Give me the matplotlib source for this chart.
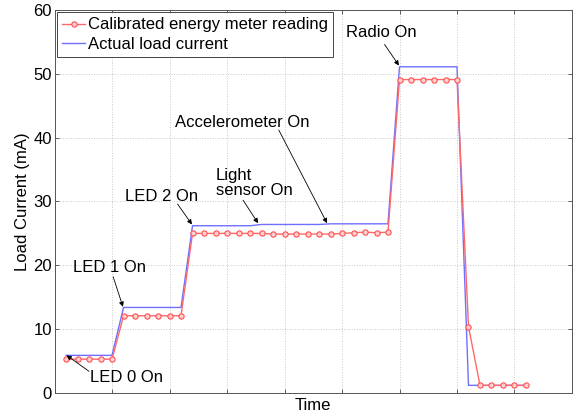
import matplotlib
matplotlib.use("Agg")
import matplotlib.pyplot as plt
import numpy as np

plt.rcParams['font.family'] = ['Liberation Sans', 'DejaVu Sans']

# Sample index (time)
samples = list(range(1, 42))

calibrated = ([5.3] * 5 + [12.1] * 6 +
              [25.0, 25.0, 25.0, 25.0, 25.0, 25.0, 25.0, 24.9, 24.9, 24.9,
               24.9, 24.9, 24.9, 25.0, 25.1, 25.2, 25.1, 25.2] +
              [49.1] * 6 + [10.4] + [1.2] * 5)

actual = ([5.9] * 5 + [13.4] * 6 +
          [26.2] * 6 + [26.4] * 6 + [26.5] * 6 +
          [51.1] * 6 + [1.2] * 6)

legend_labels = ["Calibrated energy meter reading", "Actual load current"]
y_ticks = [0, 10, 20, 30, 40, 50, 60]
x_ticks = list(range(0, 46, 5))

# annotations: text, text position, arrow tail, arrow head
annotations = [
    ("LED 0 On", (6.3, 2.5), (3.0, 3.4), (1.05, 5.9)),
    ("LED 1 On", (4.8, 19.7), (5.1, 18.2), (5.95, 13.5)),
    ("LED 2 On", (9.3, 30.8), (10.7, 29.6), (11.95, 26.4)),
    ("Light\nsensor On", (14.0, 32.9), (16.4, 30.2), (17.7, 26.6)),
    ("Accelerometer On", (16.3, 42.3), (19.5, 41.2), (23.7, 26.6)),
    ("Radio On", (28.4, 56.4), (28.7, 54.6), (29.95, 51.3)),
]

fig = plt.figure(figsize=(5.74, 4.15), dpi=100)
ax = fig.add_axes([0.0950, 0.053, 0.9015, 0.923])

ax.plot(samples, calibrated, color='#ff6868', lw=1.0, marker='o', ms=3.8,
        mfc='#ffd0d0', mec='#ff5050', mew=0.8, label=legend_labels[0], zorder=3)
ax.plot(samples, actual, color='#7070ff', lw=1.0, label=legend_labels[1], zorder=2)

ax.set_xlim(0, 45)
ax.set_ylim(0, 60)
ax.set_xticks(x_ticks)
ax.set_xticklabels([])
ax.set_yticks(y_ticks)
ax.tick_params(axis='both', direction='in', top=True, right=True, length=3,
               width=0.6, labelsize=12, colors='#444444')
ax.tick_params(axis='y', labelcolor='black', pad=2)
for s in ax.spines.values():
    s.set_linewidth(0.7)
    s.set_color('#555555')
ax.grid(True, linestyle=':', color='#c8c8c8', lw=0.7)

ax.set_xlabel("Time", fontsize=12, labelpad=0)
ax.set_ylabel("Load Current (mA)", fontsize=12, labelpad=2)

for txt, tpos, tail, head in annotations:
    ha = 'left' if '\n' in txt else 'center'
    ax.text(tpos[0], tpos[1], txt, fontsize=12,
            ha=ha, va='center', linespacing=1.0, zorder=5)
    ax.annotate('', xy=head, xytext=tail,
                arrowprops=dict(arrowstyle='-|>', color='black', lw=0.6,
                                mutation_scale=7, shrinkA=0, shrinkB=0),
                zorder=5)

leg = ax.legend(loc='upper left', fontsize=12, frameon=True, fancybox=False,
                edgecolor='#444444', borderpad=0.3, handlelength=1.4,
                handletextpad=0.15, labelspacing=0.25, borderaxespad=0.15,
                framealpha=1.0)
leg.get_frame().set_linewidth(0.7)

fig.savefig("out.png", dpi=100)
